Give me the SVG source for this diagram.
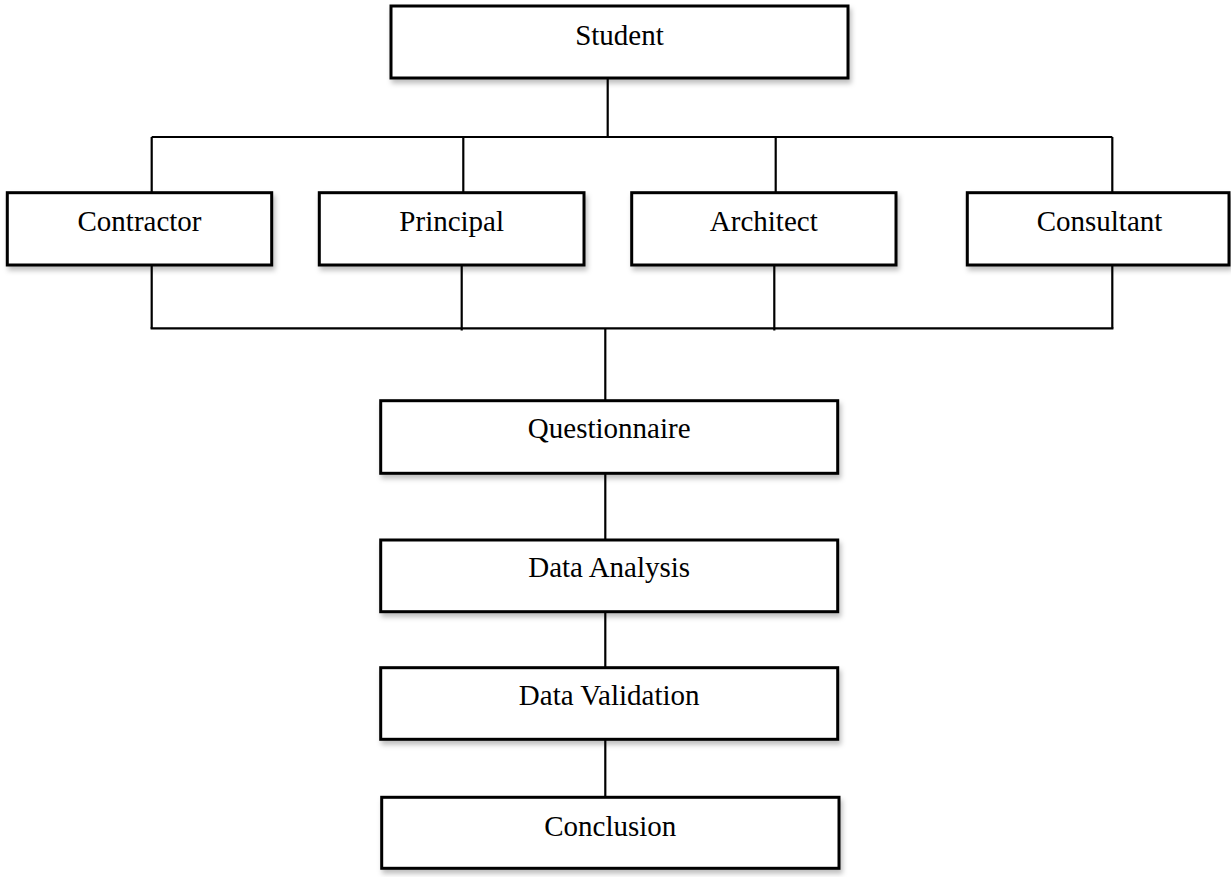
<svg xmlns="http://www.w3.org/2000/svg" width="1231" height="877" viewBox="0 0 1231 877">
  <style>
    .box { fill: #ffffff; stroke: #000000; stroke-width: 3; filter: url(#shadow); }
    .label { font-family: "Liberation Serif", "Times New Roman", serif; font-size: 29px; fill: #000000; text-anchor: middle; }
    .wire { fill: none; stroke: #000000; stroke-width: 2.2; }
  </style>
  <defs>
    <filter id="shadow" x="-5%" y="-10%" width="115%" height="140%">
      <feDropShadow dx="2" dy="4" stdDeviation="2.5" flood-color="#000000" flood-opacity="0.25"/>
    </filter>
  </defs>
  <rect width="1231" height="877" fill="#ffffff"/>

  <!-- connectors -->
  <g id="connectors" class="wire">
    <!-- Student to the four respondent groups -->
    <line x1="607.7" y1="78" x2="607.7" y2="137"/>
    <line x1="151.7" y1="137" x2="1112.3" y2="137"/>
    <line x1="151.7" y1="137" x2="151.7" y2="193"/>
    <line x1="463.3" y1="137" x2="463.3" y2="193"/>
    <line x1="775.7" y1="137" x2="775.7" y2="193"/>
    <line x1="1112.3" y1="137" x2="1112.3" y2="193"/>
    <!-- respondent groups merge into the questionnaire -->
    <line x1="151.7" y1="265" x2="151.7" y2="328.5"/>
    <line x1="461.7" y1="265" x2="461.7" y2="330.5"/>
    <line x1="774.3" y1="265" x2="774.3" y2="330.5"/>
    <line x1="1112.3" y1="265" x2="1112.3" y2="328.5"/>
    <line x1="150.6" y1="328.3" x2="1113.4" y2="328.3"/>
    <line x1="605.3" y1="328.3" x2="605.3" y2="401"/>
    <!-- sequential steps -->
    <line x1="605.3" y1="473" x2="605.3" y2="540"/>
    <line x1="605.3" y1="612" x2="605.3" y2="668"/>
    <line x1="605.3" y1="739" x2="605.3" y2="797"/>
  </g>

  <g id="student">
    <rect class="box" x="391" y="6" width="457" height="72"/>
    <text class="label" x="619.5" y="45">Student</text>
  </g>

  <g id="contractor">
    <rect class="box" x="7.3" y="192.7" width="264.4" height="72.3"/>
    <text class="label" x="139.5" y="231">Contractor</text>
  </g>

  <g id="principal">
    <rect class="box" x="319.3" y="192.7" width="264.7" height="72.3"/>
    <text class="label" x="451.7" y="231">Principal</text>
  </g>

  <g id="architect">
    <rect class="box" x="631.7" y="192.7" width="264.3" height="72.3"/>
    <text class="label" x="763.8" y="231">Architect</text>
  </g>

  <g id="consultant">
    <rect class="box" x="967.3" y="192.7" width="261.7" height="72.3"/>
    <text class="label" x="1099.5" y="231">Consultant</text>
  </g>

  <g id="questionnaire">
    <rect class="box" x="380.7" y="400.7" width="457" height="72.6"/>
    <text class="label" x="609.2" y="438.3">Questionnaire</text>
  </g>

  <g id="data-analysis">
    <rect class="box" x="380.7" y="540" width="457" height="71.7"/>
    <text class="label" x="609.2" y="576.7">Data Analysis</text>
  </g>

  <g id="data-validation">
    <rect class="box" x="380.7" y="667.7" width="457" height="71.6"/>
    <text class="label" x="609.2" y="705">Data Validation</text>
  </g>

  <g id="conclusion">
    <rect class="box" x="381.7" y="797.3" width="457.3" height="71"/>
    <text class="label" x="610.3" y="835.7">Conclusion</text>
  </g>
</svg>
